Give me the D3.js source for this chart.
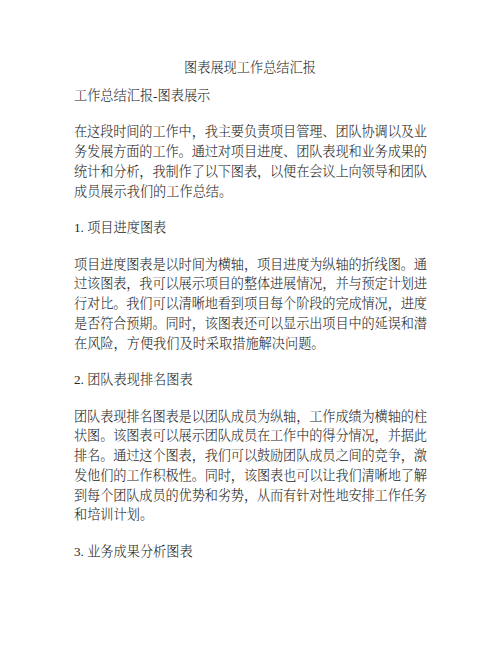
<!DOCTYPE html>
<html>
<head>
<meta charset="utf-8">
<script src="https://cdn.jsdelivr.net/npm/d3@7"></script>
<style>
  html, body { margin: 0; padding: 0; background: #fff; }
  svg text { font-family: "Liberation Serif", "Noto Serif CJK SC", "Noto Sans CJK SC", serif; fill: #262626; font-weight: 300; }
</style>
</head>
<body>
<div id="page"></div>
<script>
// Page text, line by line as in the reference
const title = '图表展现工作总结汇报';
const subtitle = '工作总结汇报-图表展示';
const intro = [
  '在这段时间的工作中，我主要负责项目管理、团队协调以及业',
  '务发展方面的工作。通过对项目进度、团队表现和业务成果的',
  '统计和分析，我制作了以下图表，以便在会议上向领导和团队',
  '成员展示我们的工作总结。'
];
const heading1 = '1. 项目进度图表';
const para1 = [
  '项目进度图表是以时间为横轴，项目进度为纵轴的折线图。通',
  '过该图表，我可以展示项目的整体进展情况，并与预定计划进',
  '行对比。我们可以清晰地看到项目每个阶段的完成情况，进度',
  '是否符合预期。同时，该图表还可以显示出项目中的延误和潜',
  '在风险，方便我们及时采取措施解决问题。'
];
const heading2 = '2. 团队表现排名图表';
const para2 = [
  '团队表现排名图表是以团队成员为纵轴，工作成绩为横轴的柱',
  '状图。该图表可以展示团队成员在工作中的得分情况，并据此',
  '排名。通过这个图表，我们可以鼓励团队成员之间的竞争，激',
  '发他们的工作积极性。同时，该图表也可以让我们清晰地了解',
  '到每个团队成员的优势和劣势，从而有针对性地安排工作任务',
  '和培训计划。'
];
const heading3 = '3. 业务成果分析图表';

function renderPage(container) {
  const width = 502, height = 649;
  const left = 74, right = 427;
  const lineStep = 19.75, blockGap = 36.5, titleGap = 28;

  d3.select(container).selectAll('*').remove();

  const svg = d3.select(container)
    .append('svg')
      .attr('width', width)
      .attr('height', height);

  // Build the line list in reading order
  const blocks = [
    { lines: [subtitle] },
    { lines: intro, justify: true },
    { lines: [heading1] },
    { lines: para1, justify: true },
    { lines: [heading2] },
    { lines: para2, justify: true },
    { lines: [heading3] }
  ];

  const rows = [];
  let y = 67 + titleGap;
  blocks.forEach((b, bi) => {
    if (bi > 0) y += blockGap - lineStep;
    b.lines.forEach((t, i) => {
      rows.push({ text: t, y, full: b.justify && i < b.lines.length - 1 });
      y += lineStep;
    });
  });

  svg.append('text')
    .attr('x', width / 2 - 1)
    .attr('y', 67)
    .attr('dy', '0.36em')
    .attr('text-anchor', 'middle')
    .attr('font-size', 13.2)
    .text(title);

  svg.append('g')
    .selectAll('text')
    .data(rows)
    .join('text')
      .attr('x', left)
      .attr('y', d => d.y)
      .attr('dy', '0.36em')
      .attr('font-size', 13.2)
      .attr('textLength', d => d.full ? right - left : null)
      .attr('lengthAdjust', 'spacing')
      .text(d => d.text);
}

renderPage('#page');
</script>
</body>
</html>
